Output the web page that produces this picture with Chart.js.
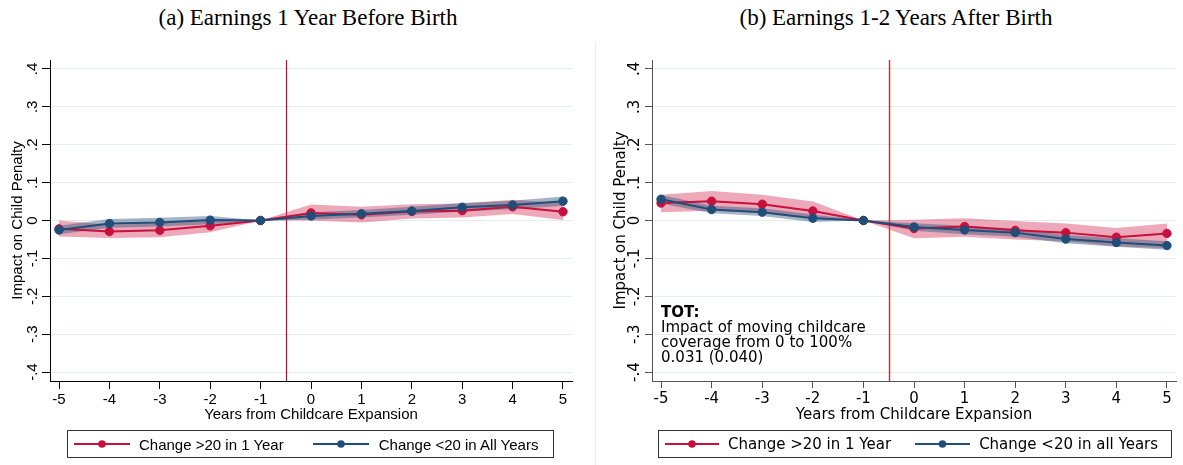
<!DOCTYPE html>
<html>
<head>
<meta charset="utf-8">
<script src="https://cdn.jsdelivr.net/npm/chart.js@4.4.0/dist/chart.umd.min.js"></script>
<style>
html,body{margin:0;padding:0;background:#fff;}
#wrap{position:relative;width:1183px;height:465px;overflow:hidden;background:#fff;}
.title{position:absolute;top:3px;font-family:"Liberation Serif","Times New Roman",serif;font-size:23px;line-height:29px;white-space:nowrap;transform:translateX(-50%);color:#000;}
canvas{position:absolute;top:0;}
#divider{position:absolute;left:595px;top:42px;width:1px;height:423px;background:#e6eef1;}
.legend{position:absolute;box-sizing:border-box;border:1px solid #333;display:flex;align-items:center;white-space:nowrap;color:#000;}
.legend svg{display:block;flex:none;}
.legend span{display:block;}
#legA{left:67px;top:430px;width:487px;height:28px;font-family:"Liberation Sans",Arial,sans-serif;font-size:15px;padding-left:6px;}
#legB{left:658px;top:430px;width:514px;height:28px;font-family:"DejaVu Sans",sans-serif;font-size:15px;padding-left:6px;}
</style>
</head>
<body>
<div id="wrap">
  <div class="title" id="titleA" style="left:308px;"></div>
  <div class="title" id="titleB" style="left:896px;"></div>
  <canvas id="cA" width="595" height="465" style="left:0;"></canvas>
  <div id="divider"></div>
  <canvas id="cB" width="585" height="465" style="left:598px;"></canvas>
  <div class="legend" id="legA"></div>
  <div class="legend" id="legB"></div>
</div>
<script>
// ---------- data ----------
const years = [-5, -4, -3, -2, -1, 0, 1, 2, 3, 4, 5];
const xTicks = [-5, -4, -3, -2, -1, 0, 1, 2, 3, 4, 5];
const yTicks = [-0.4, -0.3, -0.2, -0.1, 0, 0.1, 0.2, 0.3, 0.4];
const yTickLabels = ['-.4', '-.3', '-.2', '-.1', '0', '.1', '.2', '.3', '.4'];
const refX = -0.5;

const titleA = '(a) Earnings 1 Year Before Birth';
const titleB = '(b) Earnings 1-2 Years After Birth';
const xTitle = 'Years from Childcare Expansion';
const yTitle = 'Impact on Child Penalty';
const seriesNamesA = ['Change >20 in 1 Year', 'Change <20 in All Years'];
const seriesNamesB = ['Change >20 in 1 Year', 'Change <20 in all Years'];

// Panel (a)
const redA     = [-0.022, -0.029, -0.026, -0.014, 0, 0.020, 0.015, 0.024, 0.026, 0.036, 0.023];
const redA_lo  = [-0.042, -0.046, -0.044, -0.031, 0, 0.000, -0.005, 0.005, 0.008, 0.017, 0.001];
const redA_hi  = [0.000, -0.011, -0.008, 0.003, 0, 0.042, 0.036, 0.043, 0.045, 0.055, 0.046];
const blueA    = [-0.025, -0.008, -0.005, 0.001, 0, 0.012, 0.018, 0.025, 0.035, 0.041, 0.051];
const blueA_lo = [-0.036, -0.019, -0.016, -0.010, 0, 0.002, 0.008, 0.015, 0.024, 0.030, 0.039];
const blueA_hi = [-0.014, 0.004, 0.007, 0.012, 0, 0.022, 0.028, 0.036, 0.046, 0.052, 0.063];

// Panel (b)
const redB     = [0.046, 0.051, 0.043, 0.025, 0, -0.021, -0.016, -0.026, -0.032, -0.044, -0.034];
const redB_lo  = [0.022, 0.026, 0.020, 0.004, 0, -0.047, -0.043, -0.050, -0.055, -0.068, -0.073];
const redB_hi  = [0.068, 0.078, 0.068, 0.050, 0, 0.002, 0.006, -0.001, -0.008, -0.020, -0.008];
const blueB    = [0.056, 0.029, 0.022, 0.006, 0, -0.017, -0.025, -0.032, -0.049, -0.058, -0.066];
const blueB_lo = [0.045, 0.019, 0.012, -0.004, 0, -0.027, -0.036, -0.043, -0.060, -0.069, -0.077];
const blueB_hi = [0.067, 0.039, 0.032, 0.016, 0, -0.007, -0.014, -0.021, -0.038, -0.047, -0.055];

const annotLines = ['TOT:', 'Impact of moving childcare', 'coverage from 0 to 100%', '0.031 (0.040)'];
const annotX = -5;
const annotY = -0.245;

// ---------- styles ----------
const RED = '#c8103c';
const BLUE = '#1f4e79';
const RED_BAND = 'rgba(214,62,100,0.45)';
const BLUE_BAND = 'rgba(50,88,128,0.45)';
const GRID = '#e4ecef';

document.getElementById('titleA').textContent = titleA;
document.getElementById('titleB').textContent = titleB;

const pts = arr => years.map((x, i) => ({x: x, y: arr[i]}));

function bandSets(lo, hi, color, order, baseIndex) {
  return [
    {data: pts(lo), borderColor: 'rgba(0,0,0,0)', backgroundColor: 'rgba(0,0,0,0)', pointRadius: 0, fill: false, order: order, tension: 0},
    {data: pts(hi), borderColor: 'rgba(0,0,0,0)', backgroundColor: color, pointRadius: 0, fill: baseIndex, order: order, tension: 0}
  ];
}
function lineSet(arr, color, order, label) {
  return {label: label, data: pts(arr), borderColor: color, backgroundColor: color, borderWidth: 2,
    pointRadius: 4.2, pointBorderWidth: 1, pointBorderColor: color, pointBackgroundColor: color,
    fill: false, order: order, tension: 0};
}

function makeRefLinePlugin(value, color, width) {
  return {
    id: 'refLine',
    beforeDatasetsDraw(chart) {
      const ctx = chart.ctx;
      const area = chart.chartArea;
      const px = Math.round(chart.scales.x.getPixelForValue(value)) + 0.5;
      ctx.save();
      ctx.globalAlpha = 1;
      ctx.setLineDash([]);
      ctx.strokeStyle = color;
      ctx.lineWidth = width;
      ctx.beginPath();
      ctx.moveTo(px, area.top);
      ctx.lineTo(px, area.bottom);
      ctx.stroke();
      ctx.restore();
    }
  };
}

function makeAnnotPlugin(spec) {
  return {
    id: 'annot',
    afterDatasetsDraw(chart) {
      if (!spec) return;
      const {ctx, scales} = chart;
      const x0 = scales.x.getPixelForValue(spec.x);
      const y0 = scales.y.getPixelForValue(spec.y);
      ctx.save();
      ctx.fillStyle = '#000';
      ctx.textAlign = 'left';
      ctx.textBaseline = 'middle';
      spec.lines.forEach((t, i) => {
        ctx.font = (i === 0 ? 'bold ' : '') + spec.size + 'px ' + spec.family;
        ctx.fillText(t, x0, y0 + i * spec.lineHeight);
      });
      ctx.restore();
    }
  };
}

function makeChart(canvasId, cfg) {
  const font = {family: cfg.family, size: 15};
  return new Chart(document.getElementById(canvasId), {
    type: 'line',
    data: {
      datasets: [
        ...bandSets(cfg.redLo, cfg.redHi, RED_BAND, 4, 0),
        ...bandSets(cfg.blueLo, cfg.blueHi, BLUE_BAND, 3, 2),
        lineSet(cfg.red, RED, 2, cfg.names[0]),
        lineSet(cfg.blue, BLUE, 1, cfg.names[1])
      ]
    },
    options: {
      responsive: false,
      animation: false,
      devicePixelRatio: 1,
      layout: {padding: {top: 60, right: cfg.padRight, bottom: 41, left: 0}},
      plugins: {
        legend: {display: false},
        tooltip: {enabled: false},
        title: {display: false}
      },
      scales: {
        x: {
          type: 'linear',
          min: -5.1786, max: 5.1786,
          afterBuildTicks: s => { s.ticks = xTicks.map(v => ({value: v})); },
          afterFit: s => { s.height = 43; },
          ticks: {callback: v => String(v), font: font, color: '#000', padding: 2, maxRotation: 0, minRotation: 0, autoSkip: false},
          grid: {drawOnChartArea: false, drawTicks: true, tickLength: cfg.tickLen, tickColor: cfg.axisColor, tickWidth: 1},
          border: {display: true, color: cfg.axisColor, width: 1},
          title: {display: true, text: xTitle, font: font, color: '#000', padding: {top: 0, bottom: 0}}
        },
        y: {
          type: 'linear',
          min: -0.4235, max: 0.4235,
          afterBuildTicks: s => { s.ticks = yTicks.map(v => ({value: v})); },
          afterFit: s => { s.width = cfg.yWidth; },
          ticks: {callback: (v, i) => yTickLabels[i], font: font, color: '#000', padding: 0,
                  minRotation: 90, maxRotation: 90, crossAlign: 'center', autoSkip: false},
          grid: {color: GRID, lineWidth: 1, drawTicks: true, tickLength: cfg.tickLen, tickColor: cfg.axisColor, tickWidth: 1},
          border: {display: true, color: cfg.axisColor, width: 1},
          title: {display: true, text: yTitle, font: font, color: '#000', padding: {top: cfg.yTitlePad, bottom: 0}}
        }
      }
    },
    plugins: [makeRefLinePlugin(refX, cfg.refColor, cfg.refWidth), makeAnnotPlugin(cfg.annot)]
  });
}

makeChart('cA', {
  family: '"Liberation Sans", Arial, sans-serif',
  red: redA, redLo: redA_lo, redHi: redA_hi,
  blue: blueA, blueLo: blueA_lo, blueHi: blueA_hi,
  names: seriesNamesA,
  refColor: 'rgb(155,27,48)', refWidth: 1.2, axisColor: '#000', tickLen: 8, yWidth: 50, padRight: 23, yTitlePad: 9,
  annot: null
});
makeChart('cB', {
  family: '"DejaVu Sans", sans-serif',
  red: redB, redLo: redB_lo, redHi: redB_hi,
  blue: blueB, blueLo: blueB_lo, blueHi: blueB_hi,
  names: seriesNamesB,
  refColor: 'rgb(255,24,24)', refWidth: 1.4, axisColor: '#555', tickLen: 7, yWidth: 54, padRight: 7, yTitlePad: 14,
  annot: {lines: annotLines, x: annotX, y: annotY, size: 15, lineHeight: 15, family: '"DejaVu Sans", sans-serif'}
});

// ---------- HTML legends ----------
function marker(color, w) {
  return '<svg width="' + w + '" height="10" viewBox="0 0 ' + w + ' 10">' +
    '<line x1="0" y1="5" x2="' + w + '" y2="5" stroke="' + color + '" stroke-width="2"/>' +
    '<circle cx="' + (w / 2) + '" cy="5" r="3.8" fill="' + color + '"/></svg>';
}
function esc(s) { return s.replace(/&/g, '&amp;').replace(/</g, '&lt;').replace(/>/g, '&gt;'); }
function buildLegend(id, names, spec) {
  const el = document.getElementById(id);
  el.innerHTML =
    marker(RED, spec.w1) + '<span style="margin-left:' + spec.g1 + 'px">' + esc(names[0]) + '</span>' +
    '<span style="margin-left:' + spec.g2 + 'px">' + marker(BLUE, spec.w2) + '</span>' +
    '<span style="margin-left:' + spec.g3 + 'px">' + esc(names[1]) + '</span>';
}
buildLegend('legA', seriesNamesA, {w1: 56, g1: 9, g2: 29, w2: 56, g3: 10});
buildLegend('legB', seriesNamesB, {w1: 54, g1: 9, g2: 24, w2: 55, g3: 9});
</script>
</body>
</html>
